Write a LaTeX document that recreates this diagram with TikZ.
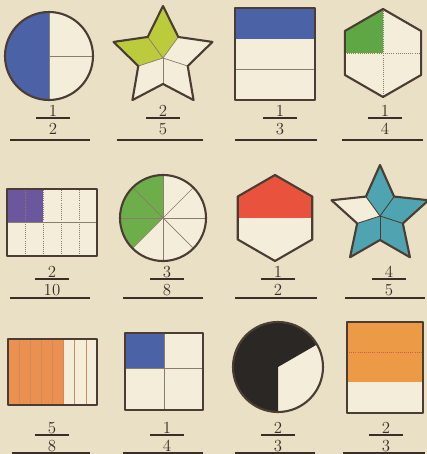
\documentclass[tikz,border=0pt]{standalone}
\usepackage{amsmath}
\usepackage{tikz}

\definecolor{paperbg}{HTML}{E9E0C6}
\definecolor{inside}{HTML}{F4EDDA}
\definecolor{edge}{HTML}{4B3D33}
\definecolor{divcol}{HTML}{8C7C6C}
\definecolor{ink}{HTML}{3A2E28}
\definecolor{blueA}{HTML}{4B62A6}
\definecolor{limeB}{HTML}{BCCB3C}
\definecolor{greenD}{HTML}{5FA645}
\definecolor{greenF}{HTML}{6DAE4A}
\definecolor{purpleE}{HTML}{6B579E}
\definecolor{redG}{HTML}{E9533D}
\definecolor{tealH}{HTML}{4EA4B0}
\definecolor{orangeI}{HTML}{EA9152}
\definecolor{orangeL}{HTML}{EC9A45}
\definecolor{darkK}{HTML}{2B2724}

\tikzset{
  outline/.style={draw=edge, line width=1.5pt, line join=round},
  divline/.style={draw=divcol, line width=0.5pt},
  fracbar/.style={draw=ink, line width=0.8pt},
  rowrule/.style={draw=ink, line width=0.9pt},
  digit/.style={font=\large, text=ink, inner sep=0pt}
}

\begin{document}
\begin{tikzpicture}[x=0.025cm, y=0.025cm]
\fill[paperbg] (0,0) rectangle (427,454);
\useasboundingbox (0,0) rectangle (427,454);

% row 1
% circle, 1/2
\fill[inside] (49,398) circle (44);
\fill[blueA] (49,442) arc (90:270:44) -- cycle;
\draw[divline] (49,442) -- (49,354)
(49,398) -- (93,398);
\draw[outline] (49,398) circle (44);

% star, 2/5
\begin{scope}[shift={(163,396)}]
\fill[inside] (90:52) -- (126:26) -- (162:52) -- (198:26) -- (234:52) -- (270:26)
  -- (306:52) -- (342:26) -- (18:52) -- (54:26) -- cycle;
\fill[limeB] (0,0) -- (54:26) -- (90:52) -- (126:26) -- (162:52) -- (198:26) -- cycle;
\foreach \a in {54,126,198,270,342}
  \draw[divline] (0,0) -- (\a:26);
\draw[outline] (90:52) -- (126:26) -- (162:52) -- (198:26) -- (234:52) -- (270:26)
  -- (306:52) -- (342:26) -- (18:52) -- (54:26) -- cycle;
\end{scope}

% rectangle, 1/3
\fill[inside] (235,354) rectangle (315,446);
\fill[blueA] (235,415) rectangle (315,446);
\draw[divline] (235,385) -- (315,385);
\draw[outline] (235,354) rectangle (315,446);

% hexagon, 1/4
\begin{scope}[shift={(383,401)}]
\fill[inside] (90:44) -- (150:44) -- (210:44) -- (270:44) -- (330:44) -- (30:44) -- cycle;
\fill[greenD] (0,0) -- (90:44) -- (150:44) -- (180:38.1) -- cycle;
\draw[divline, densely dotted] (90:44) -- (270:44)
(180:38.1) -- (0:38.1);
\draw[outline] (90:44) -- (150:44) -- (210:44) -- (270:44) -- (330:44) -- (30:44) -- cycle;
\end{scope}

% row 2
% grid, 2/10
\fill[inside] (7,198) rectangle (97,265);
\fill[purpleE] (7,231.5) rectangle (43,265);
\foreach \x in {25,43,61,79}
  \draw[divline, densely dotted] (\x,198) -- (\x,265);
\draw[divline] (7,231.5) -- (97,231.5);
\draw[outline] (7,198) rectangle (97,265);

% circle, 3/8
\fill[inside] (163,236) circle (43);
\fill[greenF] (163,236) -- (163,279) arc (90:225:43) -- cycle;
\foreach \a in {0,45,...,315}
  \draw[divline] (163,236) -- +(\a:43);
\draw[outline] (163,236) circle (43);

% hexagon, 1/2
\begin{scope}[shift={(275,236)}]
\fill[inside] (90:43) -- (150:43) -- (210:43) -- (270:43) -- (330:43) -- (30:43) -- cycle;
\fill[redG] (180:37.2) -- (150:43) -- (90:43) -- (30:43) -- (0:37.2) -- cycle;
\draw[outline] (90:43) -- (150:43) -- (210:43) -- (270:43) -- (330:43) -- (30:43) -- cycle;
\end{scope}

% star, 4/5
\begin{scope}[shift={(380,238)}]
\fill[tealH] (90:51) -- (126:24) -- (162:51) -- (198:24) -- (234:51) -- (270:24)
  -- (306:51) -- (342:24) -- (18:51) -- (54:24) -- cycle;
\fill[inside] (0,0) -- (126:24) -- (162:51) -- (198:24) -- cycle;
\foreach \a in {54,126,198,270,342}
  \draw[draw=edge, line width=0.6pt] (0,0) -- (\a:24);
\draw[outline] (90:51) -- (126:24) -- (162:51) -- (198:24) -- (234:51) -- (270:24)
  -- (306:51) -- (342:24) -- (18:51) -- (54:24) -- cycle;
\end{scope}

% row 3
% strips, 5/8
\fill[inside] (8,49) rectangle (97,115);
\fill[orangeI] (8,49) rectangle (63.6,115);
\foreach \i in {1,...,7}
  \draw[divline, draw=orangeI!70!divcol] (8+11.125*\i,49) -- (8+11.125*\i,115);
\draw[outline] (8,49) rectangle (97,115);

% square, 1/4
\fill[inside] (125,44) rectangle (203,121);
\fill[blueA] (125,86) rectangle (164,121);
\draw[divline] (164,44) -- (164,121)
(125,86) -- (203,86);
\draw[outline] (125,44) rectangle (203,121);

% circle, 2/3
\begin{scope}[shift={(278,87)}]
\fill[inside] (0,0) circle (45);
\fill[darkK] (0,0) -- (30:45) arc (30:270:45) -- cycle;
\draw[outline] (0,0) circle (45);
\end{scope}

% rectangle, 2/3
\fill[inside] (347,41) rectangle (423,132);
\fill[orangeL] (347,71.5) rectangle (423,132);
\draw[divline, densely dotted, draw=redG!70!divcol] (347,102) -- (423,102);
\draw[outline] (347,41) rectangle (423,132);

% fractions
\foreach \fx/\fy/\num/\den [count=\i] in {53/336/1/2, 163/336/2/5, 280/336/1/3, 385/336/1/4,
  52/175/2/10, 167/175/3/8, 278/175/1/2, 389/175/4/5,
  52/19/5/8, 167/19/1/4, 278/19/2/3, 386/19/2/3}
{
  \node[digit] (num\i) at (\fx,\fy+7) {\num};
  \node[digit] (den\i) at (\fx,\fy-11) {\den};
  \draw[fracbar] (\fx-17,\fy) -- (\fx+17,\fy);
}

% rules under the fractions
\draw[rowrule] (10,314) -- (90,314)
(117,314) -- (203,314)
(235,314) -- (317,314)
(342,314) -- (423,314);
\draw[rowrule] (10,156) -- (90,156)
(123,156) -- (203,156)
(235,156) -- (317,156)
(345,156) -- (425,156);
\draw[rowrule] (12,1) -- (90,1)
(123,1) -- (203,1)
(235,1) -- (315,1)
(343,1) -- (425,1);
\end{tikzpicture}
\end{document}
